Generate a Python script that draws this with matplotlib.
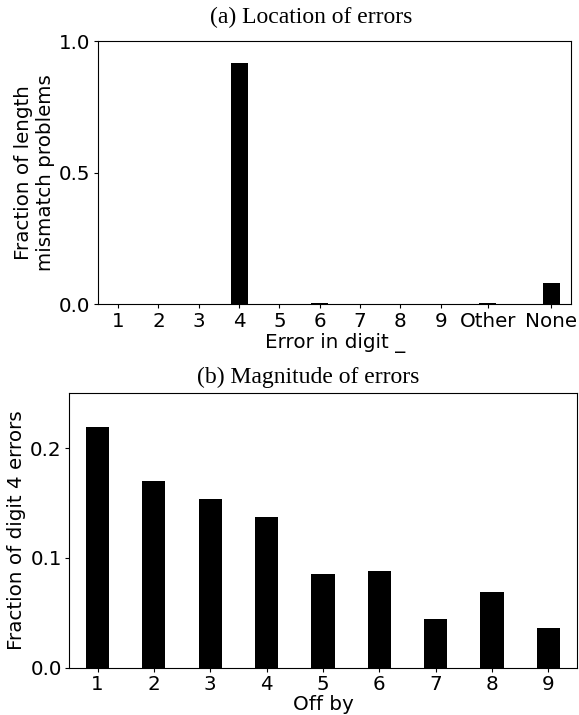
import matplotlib
matplotlib.use('Agg')
import matplotlib.pyplot as plt

# (a) location of errors
loc_labels = ['1', '2', '3', '4', '5', '6', '7', '8', '9', 'Other', 'None']
loc_values = [0.0, 0.0, 0.0, 0.916, 0.0, 0.004, 0.0, 0.0, 0.0, 0.004, 0.08]

# (b) magnitude of errors
off_by = [1, 2, 3, 4, 5, 6, 7, 8, 9]
off_values = [0.2194, 0.1702, 0.1538, 0.1373, 0.0854, 0.0884, 0.0444, 0.069, 0.0362]

# the last two categories sit a bit further apart on the axis
loc_pos = [1, 2, 3, 4, 5, 6, 7, 8, 9, 10.17, 11.74]

fs = 14.3
tfs = 17
serif = ['Liberation Serif', 'DejaVu Serif']

fig = plt.figure(figsize=(5.79, 7.15), dpi=100)

ax1 = fig.add_axes([0.1693, 0.5748, 0.8174, 0.3674])
ax1.bar(loc_pos, loc_values, width=0.42, color='black')
ax1.set_xticks(loc_pos)
ax1.set_xticklabels(loc_labels)
ax1.set_xlim(0.5, 12.24)
ax1.set_ylim(0, 1.0)
ax1.set_yticks([0.0, 0.5, 1.0])
ax1.tick_params(labelsize=fs, length=3, pad=2.5)
ax1.set_xlabel('Error in digit _', fontsize=fs, labelpad=2)
ax1.set_ylabel('Fraction of length\nmismatch problems', fontsize=fs, labelpad=3)

ax2 = fig.add_axes([0.1199, 0.0662, 0.8758, 0.3837])
ax2.bar(off_by, off_values, width=0.41, color='black')
ax2.set_xticks(off_by)
ax2.set_xlim(0.5, 9.5)
ax2.set_ylim(0, 0.25)
ax2.set_yticks([0.0, 0.1, 0.2])
ax2.tick_params(labelsize=fs, length=3, pad=2.5)
ax2.set_xlabel('Off by', fontsize=fs, labelpad=0.5)
ax2.set_ylabel('Fraction of digit 4 errors', fontsize=fs, labelpad=3)

fig.text(0.537, 0.968, '(a) Location of errors', fontsize=tfs, family=serif,
         ha='center', va='baseline')
fig.text(0.532, 0.4645, '(b) Magnitude of errors', fontsize=tfs, family=serif,
         ha='center', va='baseline')

plt.savefig('out.png', dpi=100)
plt.close(fig)
